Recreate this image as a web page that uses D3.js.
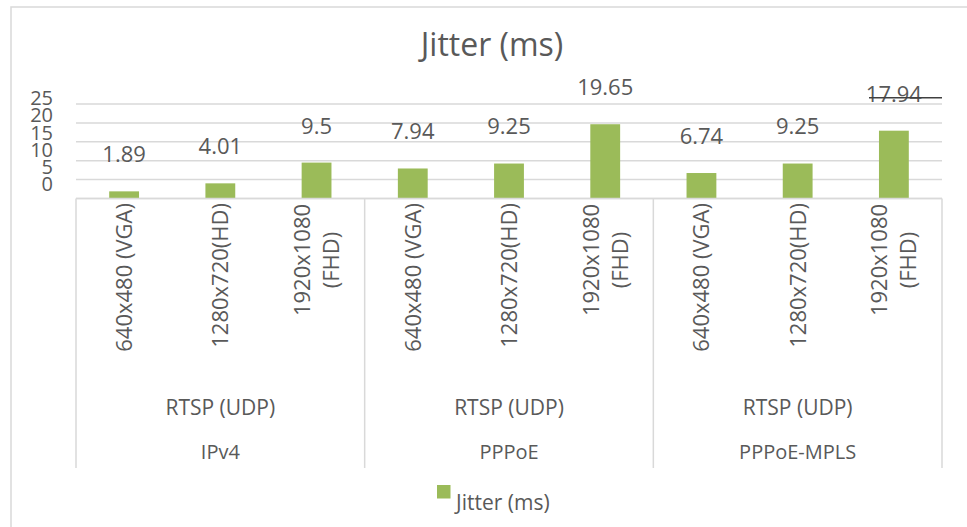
<!DOCTYPE html>
<html lang="en">
<head>
  <meta charset="utf-8">
  <title>Jitter (ms)</title>
  <script src="https://d3js.org/d3.v7.min.js"></script>
  <style>
    body { margin: 0; background: #fff; }
    text { font-family: "Open Sans", sans-serif; fill: #595959; }
    .grid line { stroke: #d9d9d9; stroke-width: 1.5; }
    .bar { fill: #9bbb59; }
  </style>
</head>
<body>
  <script>
    // chart data
    var groups = ["IPv4", "PPPoE", "PPPoE-MPLS"];
    var protocols = ["RTSP (UDP)", "RTSP (UDP)", "RTSP (UDP)"];
    var resolutions = [["640x480 (VGA)"], ["1280x720(HD)"], ["1920x1080", "(FHD)"]];
    var jitter = [1.89, 4.01, 9.5, 7.94, 9.25, 19.65, 6.74, 9.25, 17.94];
    var yTicks = [0, 5, 10, 15, 20, 25];

    var width = 967, height = 527;

    var svg = d3.select("body").append("svg")
      .attr("width", width)
      .attr("height", height);

    // outer chart border (runs off the picture on the right and bottom)
    svg.append("rect")
      .attr("x", 11).attr("y", 7)
      .attr("width", 1000).attr("height", 600)
      .attr("fill", "none")
      .attr("stroke", "#d9d9d9")
      .attr("stroke-width", 1.5);

    svg.append("text")
      .attr("x", 492).attr("y", 56)
      .attr("text-anchor", "middle")
      .style("font-size", "32px")
      .text("Jitter (ms)");

    var left = 76, right = 942, axisY = 198.5;

    var x = d3.scaleBand()
      .domain(d3.range(jitter.length))
      .range([left, right])
      .paddingInner(0.69)
      .paddingOuter(0.345);

    var xGroup = d3.scaleBand()
      .domain(groups)
      .range([left, right]);

    var y = d3.scaleLinear().domain([0, 25]).range([axisY, 104]);
    // the tick labels sit a little higher and tighter than the gridlines
    var yLabel = d3.scaleLinear().domain([0, 25]).range([184, 98]);

    var grid = svg.append("g").attr("class", "grid");
    grid.selectAll("line")
      .data(yTicks)
      .enter()
      .append("line")
      .attr("x1", left).attr("x2", right)
      .attr("y1", function(d) { return y(d); })
      .attr("y2", function(d) { return y(d); });

    svg.append("g").selectAll("text")
      .data(yTicks)
      .enter()
      .append("text")
      .attr("x", 53)
      .attr("y", function(d) { return yLabel(d); })
      .attr("dy", "0.36em")
      .attr("text-anchor", "end")
      .style("font-size", "20px")
      .text(function(d) { return d; });

    // group separators down through the category levels
    svg.append("g").attr("class", "grid").selectAll("line")
      .data(groups.concat(["end"]))
      .enter()
      .append("line")
      .attr("x1", function(d, i) { return left + i * xGroup.bandwidth(); })
      .attr("x2", function(d, i) { return left + i * xGroup.bandwidth(); })
      .attr("y1", axisY)
      .attr("y2", 468);

    svg.append("g").selectAll("rect")
      .data(jitter)
      .enter()
      .append("rect")
      .attr("class", "bar")
      .attr("x", function(d, i) { return x(i); })
      .attr("width", x.bandwidth())
      .attr("y", function(d) { return y(d); })
      .attr("height", function(d) { return axisY - y(d); });

    var labelY = function(d) { return y(d) - 37; };

    svg.append("g").selectAll("text")
      .data(jitter)
      .enter()
      .append("text")
      .attr("x", function(d, i) { return x(i) + x.bandwidth() / 2; })
      .attr("y", labelY)
      .attr("dy", "0.36em")
      .attr("text-anchor", "middle")
      .style("font-size", "22px")
      .text(function(d) { return d; });

    // odd dark stroke running through the last data label
    var last = jitter[jitter.length - 1];
    svg.append("line")
      .attr("x1", 869).attr("x2", right)
      .attr("y1", labelY(last) + 4).attr("y2", labelY(last) + 4)
      .attr("stroke", "#404040")
      .attr("stroke-width", 1.5);

    svg.append("line")
      .attr("x1", left).attr("x2", right)
      .attr("y1", axisY).attr("y2", axisY)
      .attr("stroke", "#d9d9d9")
      .attr("stroke-width", 1.5);

    // rotated resolution labels
    jitter.forEach(function(d, i) {
      var cx = x(i) + x.bandwidth() / 2;
      var lines = resolutions[i % resolutions.length];
      lines.forEach(function(line, k) {
        var single = lines.length === 1;
        var lx = single ? cx : cx + (k - 0.5) * 29;
        var ly = single ? 203 : 260;
        svg.append("text")
          .attr("transform", "translate(" + lx + "," + ly + ") rotate(-90)")
          .attr("dy", "0.36em")
          .attr("text-anchor", single ? "end" : "middle")
          .style("font-size", "22px")
          .text(line);
      });
    });

    svg.append("g").selectAll("text")
      .data(groups)
      .enter()
      .append("text")
      .attr("x", function(d) { return xGroup(d) + xGroup.bandwidth() / 2; })
      .attr("y", 407)
      .attr("dy", "0.36em")
      .attr("text-anchor", "middle")
      .style("font-size", "21px")
      .text(function(d, i) { return protocols[i]; });

    svg.append("g").selectAll("text")
      .data(groups)
      .enter()
      .append("text")
      .attr("x", function(d) { return xGroup(d) + xGroup.bandwidth() / 2; })
      .attr("y", 452)
      .attr("dy", "0.36em")
      .attr("text-anchor", "middle")
      .style("font-size", "20px")
      .text(function(d) { return d; });

    // legend
    svg.append("rect")
      .attr("class", "bar")
      .attr("x", 437).attr("y", 485)
      .attr("width", 13.5).attr("height", 13.5);

    svg.append("text")
      .attr("x", 456).attr("y", 510)
      .style("font-size", "21px")
      .text("Jitter (ms)");
  </script>
</body>
</html>
